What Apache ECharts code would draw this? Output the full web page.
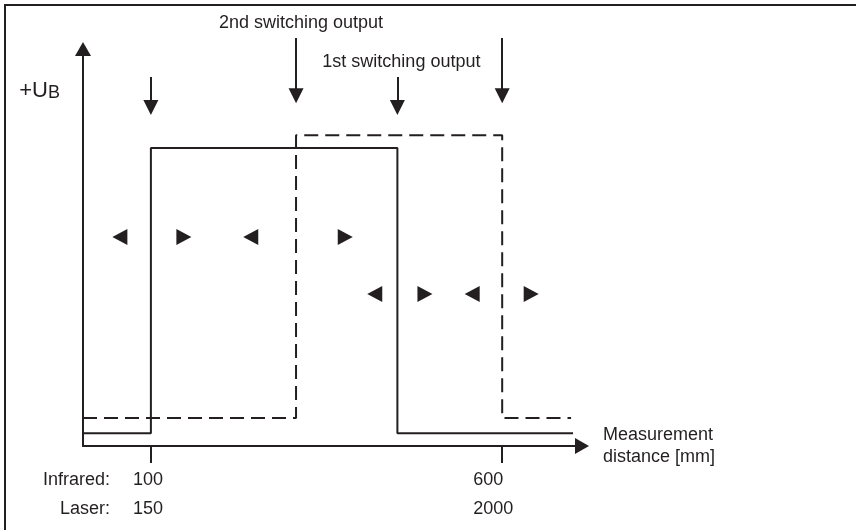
<!DOCTYPE html>
<html><head><meta charset="utf-8">
<script src="https://cdn.jsdelivr.net/npm/echarts@6/dist/echarts.min.js"></script>
<style>
html,body{margin:0;padding:0;background:#fff}
#frame{position:absolute;left:4px;top:4px;width:852px;height:526px;border-left:2px solid #231f20;border-top:2px solid #231f20;box-sizing:border-box}
#chart{position:absolute;left:0;top:0;width:856px;height:530px}
</style></head><body>
<div id="frame"></div><div id="chart"></div>
<script>
// Schematic units: x 0..100 along the distance axis, y 0..100 along +UB
const solidEdges = [13.8, 63.9];     // 1st switching output: switch-on / switch-off
const dashedEdges = [43.3, 85.2];    // 2nd switching output: switch-on / switch-off
const solidLevels = [3.3, 76.4];     // low, high
const dashedLevels = [7.2, 79.7];    // low, high
const solidEnd = 99.6;
const dashedEnd = 99.2;
const shortArrowY = [94.6, 86.8];    // shaft top, head
const longArrowY = [104.6, 89.8];
const triRow1Y = 53.6;
const triRow1X = [7.5, 20.5, 34.1, 53.3];
const triRow2Y = 39.0;
const triRow2X = [59.3, 69.5, 79.1, 91.1];
const triDirs = ['left', 'right', 'left', 'right'];
const tickRowHeaders = ['Infrared:', 'Laser:'];
const infraredTicks = ['100', '600'];
const laserTicks = ['150', '2000'];
const switchNames = ['1st switching output', '2nd switching output'];

const INK = '#231f20';
const FONT = "'Liberation Sans', Arial, Helvetica, sans-serif";
const xTicks = [solidEdges[0], dashedEdges[1]];

function stepData(edges, levels, end) {
  return [[0, levels[0]], [edges[0], levels[1]], [edges[1], levels[0]], [end, levels[0]]];
}
function triData(xs, y) {
  return xs.map((x, i) => ({ value: [x, y], symbolRotate: triDirs[i] === 'left' ? 90 : -90 }));
}
const arrows = [
  { coords: [[solidEdges[0], shortArrowY[0]], [solidEdges[0], shortArrowY[1]]] },
  { coords: [[dashedEdges[0], longArrowY[0]], [dashedEdges[0], longArrowY[1]]],
    label: { show: true, formatter: switchNames[1], offset: [5, 0] } },
  { coords: [[solidEdges[1], shortArrowY[0]], [solidEdges[1], shortArrowY[1]]],
    label: { show: true, formatter: switchNames[0], offset: [4, 0] } },
  { coords: [[dashedEdges[1], longArrowY[0]], [dashedEdges[1], longArrowY[1]]] }
];

const chart = echarts.init(document.getElementById('chart'), null, { renderer: 'canvas' });
chart.setOption({
  animation: false,
  textStyle: { fontFamily: FONT, color: INK },
  grid: { left: 83, top: 56, right: 281, bottom: 84, containLabel: false, outerBoundsMode: 'none' },
  xAxis: {
    type: 'value', min: 0, max: 100,
    splitLine: { show: false },
    axisLine: { show: true, onZero: false, lineStyle: { color: INK, width: 2 },
      symbol: ['none', 'triangle'], symbolSize: [16, 14], symbolOffset: [0, 7] },
    axisTick: { show: true, customValues: xTicks, length: 17, inside: false, lineStyle: { color: INK, width: 2 } },
    axisLabel: {
      show: true, customValues: [0].concat(xTicks), margin: 20,
      fontFamily: FONT, fontSize: 18, color: INK, lineHeight: 29,
      formatter: function (v) {
        if (v === 0) return '{h|' + tickRowHeaders[0] + '}\n{h|' + tickRowHeaders[1] + '}';
        const i = xTicks.indexOf(v);
        return '{t' + i + '|' + infraredTicks[i] + '}\n{t' + i + '|' + laserTicks[i] + '}';
      },
      rich: {
        h: { width: 54, align: 'right', fontSize: 18, lineHeight: 29, fontFamily: FONT, color: INK },
        t0: { width: 36, align: 'left', fontSize: 18, lineHeight: 29, fontFamily: FONT, color: INK },
        t1: { width: 58, align: 'left', fontSize: 18, lineHeight: 29, fontFamily: FONT, color: INK }
      }
    },
    name: 'Measurement\ndistance [mm]', nameLocation: 'end', nameGap: 28,
    nameTextStyle: { align: 'left', verticalAlign: 'middle', fontSize: 18, lineHeight: 22,
      padding: [0, 0, 38, 0], fontFamily: FONT, color: INK }
  },
  yAxis: {
    type: 'value', min: 0, max: 100,
    splitLine: { show: false },
    axisLine: { show: true, onZero: false, lineStyle: { color: INK, width: 2 },
      symbol: ['none', 'triangle'], symbolSize: [16, 14], symbolOffset: [0, 7] },
    axisTick: { show: false }, axisLabel: { show: false },
    name: '+U{s|B}', nameLocation: 'end', nameGap: -35,
    nameTextStyle: { align: 'right', verticalAlign: 'middle', padding: [0, 23, 0, 0],
      fontSize: 22, fontFamily: FONT, color: INK,
      rich: { s: { fontSize: 18, verticalAlign: 'bottom', padding: [4, 0, 0, 0], fontFamily: FONT, color: INK } } }
  },
  series: [
    { type: 'line', name: '1st switching output', data: stepData(solidEdges, solidLevels, solidEnd),
      step: 'end', showSymbol: false, symbol: 'none', lineStyle: { color: INK, width: 2, type: 'solid' } },
    { type: 'line', name: '2nd switching output', data: stepData(dashedEdges, dashedLevels, dashedEnd),
      step: 'end', showSymbol: false, symbol: 'none',
      lineStyle: { color: INK, width: 2, type: [14, 7], cap: 'butt' } },
    { type: 'lines', coordinateSystem: 'cartesian2d', clip: false, data: arrows,
      symbol: ['none', 'triangle'], symbolSize: 15,
      lineStyle: { color: INK, width: 2, opacity: 1, curveness: 0 },
      label: { show: false, position: 'start', distance: 6, align: 'center', verticalAlign: 'bottom',
        fontSize: 18, fontFamily: FONT, color: INK } },
    { type: 'scatter', data: triData(triRow1X, triRow1Y).concat(triData(triRow2X, triRow2Y)),
      symbol: 'triangle', symbolSize: [16, 15], itemStyle: { color: INK, opacity: 1 } }
  ]
});
</script>
</body></html>
